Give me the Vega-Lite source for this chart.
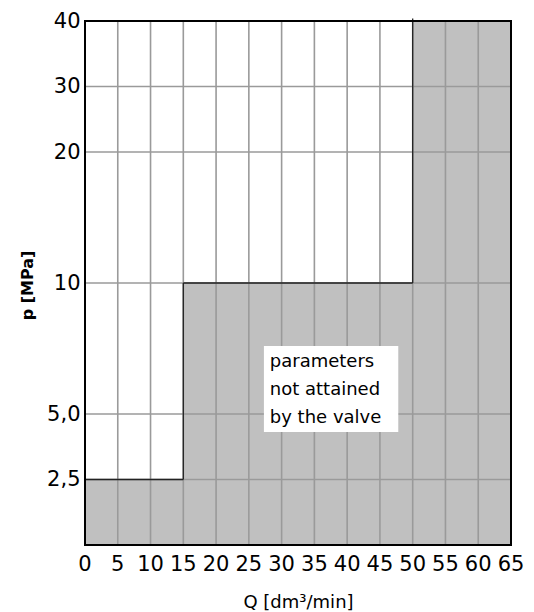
{
  "$schema": "https://vega.github.io/schema/vega-lite/v6.json",
  "width": 426,
  "height": 524,
  "autosize": "none",
  "padding": {"left": 85, "top": 21, "right": 23, "bottom": 67},
  "config": {
    "view": {"stroke": null},
    "font": "DejaVu Sans",
    "axis": {"labelFont": "DejaVu Sans", "titleFont": "DejaVu Sans", "labelColor": "black", "titleColor": "black", "labelOverlap": false, "labelSeparation": 0, "labelFlush": false}
  },
  "datasets": {
    "gray": [
      {"q1": 0, "q2": 15, "p1": 0, "p2": 2.5},
      {"q1": 15, "q2": 50, "p1": 0, "p2": 10},
      {"q1": 50, "q2": 65, "p1": 0, "p2": 40}
    ],
    "vgrid": [{"q": 5}, {"q": 10}, {"q": 15}, {"q": 20}, {"q": 25}, {"q": 30}, {"q": 35}, {"q": 40}, {"q": 45}, {"q": 50}, {"q": 55}, {"q": 60}],
    "xticks": [{"q": 0}, {"q": 5}, {"q": 10}, {"q": 15}, {"q": 20}, {"q": 25}, {"q": 30}, {"q": 35}, {"q": 40}, {"q": 45}, {"q": 50}, {"q": 55}, {"q": 60}, {"q": 65}],
    "hgrid": [{"p": 2.5}, {"p": 5}, {"p": 10}, {"p": 20}, {"p": 30}],
    "outline": [
      {"q1": 0, "q2": 15, "p1": 2.5, "p2": 2.5},
      {"q1": 15, "q2": 15, "p1": 2.5, "p2": 10},
      {"q1": 15, "q2": 50, "p1": 10, "p2": 10},
      {"q1": 50, "q2": 50, "p1": 10, "p2": 40.4}
    ],
    "frame": [{"q1": 0, "q2": 65, "p1": 0, "p2": 40}],
    "box": [{"q1": 27.3, "q2": 47.8, "p1": 4.31, "p2": 7.6}],
    "label": [
      {"q": 28.2, "p": 6.79, "t": "parameters"},
      {"q": 28.2, "p": 5.72, "t": "not attained"},
      {"q": 28.2, "p": 4.67, "t": "by the valve"}
    ]
  },
  "layer": [
    {
      "data": {"name": "gray"},
      "mark": {"type": "rect", "fill": "#c0c0c0"},
      "encoding": {
        "x": {
          "field": "q1", "type": "quantitative",
          "scale": {"domain": [0, 65], "nice": false, "zero": false},
          "axis": {
            "labels": false,
            "grid": false, "ticks": false, "domain": false,
            "title": "Q [dm³/min]", "titleFontSize": 18, "titleFontWeight": "normal",
            "titleX": 213, "titleY": 62, "titleBaseline": "alphabetic", "titleAlign": "center"
          }
        },
        "x2": {"field": "q2"},
        "y": {
          "field": "p1", "type": "quantitative",
          "scale": {"domain": [0, 2.5, 5, 10, 20, 30, 40], "range": [524, 458.5, 393, 262, 131, 65.5, 0], "nice": false, "zero": false},
          "axis": {
            "values": [2.5, 5, 10, 20, 30, 40],
            "labelExpr": "datum.value == 2.5 ? '2,5' : datum.value == 5 ? '5,0' : datum.label",
            "grid": false, "ticks": false, "domain": false,
            "labelFontSize": 21, "labelPadding": 5, "labelOverlap": false, "labelBaseline": "middle",
            "title": "p [MPa]", "titleFontSize": 16, "titleFontWeight": "bold",
            "titleX": -58, "titleY": 264, "titleBaseline": "middle", "titleAlign": "center", "titleAngle": -90
          }
        },
        "y2": {"field": "p2"}
      }
    },
    {
      "data": {"name": "vgrid"},
      "mark": {"type": "rule", "stroke": "#9a9a9a", "strokeWidth": 1.6},
      "encoding": {
        "x": {"field": "q", "type": "quantitative"},
        "y": {"datum": 0},
        "y2": {"datum": 40}
      }
    },
    {
      "data": {"name": "hgrid"},
      "mark": {"type": "rule", "stroke": "#9a9a9a", "strokeWidth": 1.6},
      "encoding": {
        "y": {"field": "p", "type": "quantitative"},
        "x": {"datum": 0},
        "x2": {"datum": 65}
      }
    },
    {
      "data": {"name": "outline"},
      "mark": {"type": "rule", "stroke": "#222222", "strokeWidth": 1.3},
      "encoding": {
        "x": {"field": "q1", "type": "quantitative"},
        "x2": {"field": "q2"},
        "y": {"field": "p1", "type": "quantitative"},
        "y2": {"field": "p2"}
      }
    },
    {
      "data": {"name": "frame"},
      "mark": {"type": "rect", "fill": null, "fillOpacity": 0, "stroke": "black", "strokeWidth": 2},
      "encoding": {
        "x": {"field": "q1", "type": "quantitative"},
        "x2": {"field": "q2"},
        "y": {"field": "p1", "type": "quantitative"},
        "y2": {"field": "p2"}
      }
    },
    {
      "data": {"name": "box"},
      "mark": {"type": "rect", "fill": "white"},
      "encoding": {
        "x": {"field": "q1", "type": "quantitative"},
        "x2": {"field": "q2"},
        "y": {"field": "p1", "type": "quantitative"},
        "y2": {"field": "p2"}
      }
    },
    {
      "data": {"name": "label"},
      "mark": {"type": "text", "align": "left", "baseline": "alphabetic", "fontSize": 18, "font": "DejaVu Sans", "color": "black"},
      "encoding": {
        "x": {"field": "q", "type": "quantitative"},
        "y": {"field": "p", "type": "quantitative"},
        "text": {"field": "t"}
      }
    },
    {
      "data": {"name": "xticks"},
      "mark": {"type": "text", "align": "center", "baseline": "top", "dy": 9, "fontSize": 21, "font": "DejaVu Sans", "color": "black"},
      "encoding": {
        "x": {"field": "q", "type": "quantitative"},
        "y": {"datum": 0},
        "text": {"field": "q", "type": "quantitative"}
      }
    }
  ]
}
